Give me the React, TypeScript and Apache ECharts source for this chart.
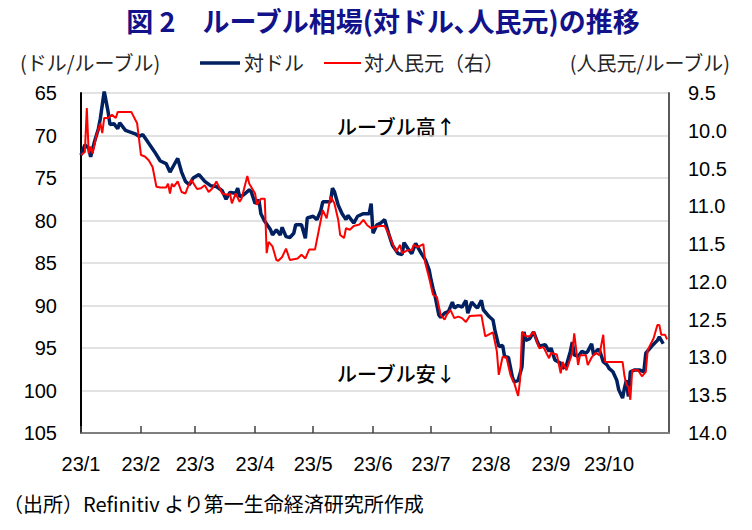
import React, { useEffect, useRef } from 'react';
import * as echarts from 'echarts';

// 対ドル (left axis, RUB per USD)
const usdDates = [
  '01-01','01-03','01-05','01-06','01-08','01-10','01-11','01-13','01-15','01-16','01-18','01-20','01-21','01-24','01-29','01-31',
  '02-02','02-05','02-08','02-11','02-14','02-16','02-18','02-20','02-22','02-24','02-26','02-28',
  '03-03','03-06','03-09','03-12','03-15','03-17','03-19','03-22','03-23','03-24','03-26','03-29','03-30',
  '04-01','04-03','04-04','04-06','04-09','04-10','04-12','04-14','04-15','04-17','04-19','04-21','04-22','04-25','04-27','04-28',
  '05-01','05-03','05-05','05-06','05-10','05-11','05-12','05-14','05-16','05-18','05-19','05-22','05-24','05-27','05-30','05-31',
  '06-01','06-03','06-05','06-07','06-09','06-11','06-14','06-16','06-17','06-19','06-21','06-23','06-24','06-26','06-28','06-30',
  '07-01','07-02','07-03','07-05','07-06','07-08','07-10','07-12','07-13','07-15','07-17','07-19','07-20','07-22','07-24','07-25','07-27','07-28','07-31',
  '08-02','08-03','08-05','08-07','08-08','08-10','08-12','08-13','08-15','08-17','08-18','08-19','08-21','08-23','08-25','08-26','08-29','08-31',
  '09-01','09-03','09-06','09-07','09-09','09-11','09-12','09-13','09-15','09-17','09-19','09-20','09-22','09-23','09-25','09-26','09-28','09-30',
  '10-01','10-03','10-05','10-06','10-08','10-09','10-10','10-11','10-12','10-14','10-17','10-19','10-20','10-23','10-26','10-27','10-29',
];
const usdValues = [
  72.3,71.1,71.5,72.5,70.7,69.2,68.0,64.8,67.2,68.7,68.6,69.2,68.5,69.4,69.8,70.1,
  69.9,70.9,71.9,73.0,73.3,74.3,73.5,72.7,74.3,75.4,75.8,75.0,
  74.6,75.4,75.9,76.0,76.5,77.5,76.7,76.8,76.2,77.2,77.0,76.4,76.6,
  78.0,77.6,79.2,80.1,81.1,81.7,81.1,81.7,80.8,81.9,82.0,81.5,80.5,80.5,82.1,79.7,
  79.5,79.9,78.8,77.8,77.8,76.2,76.6,78.2,79.2,79.9,79.4,80.3,79.5,79.2,79.2,78.0,
  81.5,80.5,80.3,79.9,81.5,82.9,83.9,84.0,82.6,83.3,83.9,82.7,83.1,83.9,84.6,85.8,
  87.0,88.0,88.8,91.1,91.4,90.9,90.7,89.6,90.3,90.0,90.2,89.4,90.9,89.6,90.1,90.3,89.4,90.5,91.3,
  91.7,92.9,94.8,94.7,96.0,96.1,98.4,99.0,98.8,97.2,93.1,94.1,93.9,93.1,94.3,94.8,94.6,95.4,
  95.0,96.4,96.8,97.4,97.0,95.4,94.3,95.8,96.0,95.4,95.6,95.4,94.5,95.8,95.2,95.2,96.6,97.0,
  97.4,97.8,98.8,99.9,100.9,99.7,98.8,100.7,97.8,97.6,97.6,97.8,95.6,94.8,94.1,93.7,94.5,
];

// 対人民元 (right axis, RUB per CNY)
const cnyDates = [
  '01-01','01-03','01-04','01-05','01-06','01-07','01-09','01-11','01-12','01-13','01-15','01-17','01-19','01-20','01-27','01-30',
  '02-01','02-03','02-05','02-07','02-09','02-11','02-14','02-15','02-16','02-17','02-18','02-20','02-22','02-24','02-25','02-27',
  '03-02','03-04','03-06','03-08','03-10','03-12','03-15','03-18','03-19','03-20','03-22','03-24','03-25','03-28','03-29',
  '04-01','04-02','04-04','04-06','04-07','04-08','04-10','04-12','04-13','04-15','04-17','04-19','04-23','04-25','04-27','04-29',
  '05-02','05-04','05-06','05-08','05-10','05-12','05-14','05-15','05-17','05-18','05-20','05-22','05-25','05-27','05-29','05-31',
  '06-02','06-05','06-07','06-09','06-11','06-13','06-15','06-16','06-19','06-21','06-22','06-24','06-27','06-28','06-30',
  '07-02','07-04','07-06','07-08','07-09','07-11','07-13','07-15','07-17','07-19','07-21','07-27','07-29',
  '08-01','08-02','08-04','08-05','08-07','08-09','08-11','08-13','08-15','08-16','08-17','08-19','08-21','08-23','08-25','08-26','08-28','08-31',
  '09-01','09-04','09-06','09-07','09-09','09-12','09-13','09-15','09-16','09-19','09-20','09-22','09-24','09-26','09-28','09-29',
  '10-08','10-09','10-10','10-11','10-12','10-13','10-16','10-18','10-20','10-21','10-24','10-26','10-27','10-28','10-30','10-31',
];
const cnyValues = [
  10.32,10.28,9.70,10.30,10.21,10.30,10.06,9.90,10.03,9.83,9.83,9.79,9.83,9.75,9.75,9.90,
  10.32,10.34,10.39,10.48,10.74,10.75,10.75,10.70,10.83,10.70,10.74,10.67,10.81,10.83,10.76,10.65,
  10.77,10.76,10.72,10.81,10.76,10.67,10.83,10.85,10.83,10.96,10.83,10.94,10.90,10.60,10.70,
  10.83,10.98,10.90,10.90,11.62,11.47,11.53,11.71,11.72,11.67,11.56,11.71,11.69,11.64,11.69,11.57,
  11.57,11.31,11.05,11.16,10.87,10.96,11.18,11.38,11.42,11.29,11.31,11.26,11.24,11.18,11.25,11.29,
  11.27,11.26,11.26,11.36,11.49,11.60,11.51,11.62,11.58,11.58,11.51,11.54,11.50,11.75,11.95,
  12.17,12.20,12.44,12.50,12.44,12.37,12.48,12.46,12.48,12.53,12.45,12.44,12.72,
  12.68,12.67,12.92,13.23,12.99,13.00,13.23,13.34,13.51,13.30,12.66,12.72,12.72,12.66,12.81,12.88,12.86,13.01,
  12.94,12.96,13.21,13.06,13.17,12.94,12.68,13.10,12.97,12.97,13.10,13.00,12.94,12.97,12.70,13.06,
  13.06,13.25,13.36,13.39,13.56,13.17,13.17,13.25,13.19,12.90,12.75,12.57,12.57,12.70,12.70,12.76,
];

const YEAR = '2023';
const xMin = '2023-01-01';
const xMax = '2023-11-01';
const leftMin = 65, leftMax = 105, leftStep = 5;
const rightMin = 9.5, rightMax = 14.0, rightStep = 0.5;

const titleText = '図 2　ルーブル相場(対ドル､人民元)の推移';
const leftUnit = '(ドル/ルーブル)';
const rightUnit = '(人民元/ルーブル)';
const usdName = '対ドル';
const cnyName = '対人民元（右）';
const upNote = 'ルーブル高↑';
const downNote = 'ルーブル安↓';
const sourceText = '（出所）Refinitiv より第一生命経済研究所作成';

const USD_COLOR = '#002060';
const CNY_COLOR = '#ff0000';

const JP = '"Noto Sans CJK JP", "Noto Sans", sans-serif';
const NUM = '"Liberation Sans", Arial, sans-serif';

export default function App() {
  const ref = useRef<HTMLDivElement>(null);
  useEffect(() => {
    if (!ref.current) return;
    const chart = echarts.init(ref.current, undefined, { renderer: 'svg' });
    const usdData = usdDates.map((d, i) => [`${YEAR}-${d}`, usdValues[i]]);
    const cnyData = cnyDates.map((d, i) => [`${YEAR}-${d}`, cnyValues[i]]);
    chart.setOption({
      animation: false,
      backgroundColor: '#ffffff',
      grid: { left: 81, right: 83, top: 93, bottom: 97, containLabel: false },
      xAxis: {
        type: 'time',
        min: xMin,
        max: xMax,
        splitNumber: 10,
        maxInterval: 31 * 86400000,
        axisLine: { show: true, lineStyle: { color: '#7f7f7f', width: 2 } },
        axisTick: { show: true, inside: true, length: 7, lineStyle: { color: '#404040', width: 1.5 } },
        axisLabel: {
          fontSize: 20,
          fontFamily: NUM,
          color: '#000',
          margin: 21,
          formatter: (v: number) => {
            const m = new Date(v).getMonth() + 1;
            return m > 10 ? '' : `23/${m}`;
          },
        },
        splitLine: { show: false },
      },
      yAxis: [
        {
          type: 'value',
          inverse: true,
          min: leftMin,
          max: leftMax,
          interval: leftStep,
          position: 'left',
          axisLine: { show: true, lineStyle: { color: '#000', width: 2 } },
          axisTick: { show: false },
          axisLabel: { fontSize: 20, fontFamily: NUM, color: '#000', margin: 24 },
          splitLine: { show: true, lineStyle: { color: '#d9d9d9', width: 1.5 } },
        },
        {
          type: 'value',
          inverse: true,
          min: rightMin,
          max: rightMax,
          interval: rightStep,
          position: 'right',
          axisLine: { show: true, lineStyle: { color: '#595959', width: 2 } },
          axisTick: { show: false },
          axisLabel: {
            fontSize: 20,
            fontFamily: NUM,
            color: '#000',
            margin: 19,
            formatter: (v: number) => v.toFixed(1),
          },
          splitLine: { show: false },
        },
      ],
      series: [
        {
          name: usdName,
          type: 'line',
          yAxisIndex: 0,
          data: usdData,
          symbol: 'none',
          lineStyle: { color: USD_COLOR, width: 3.5 },
          itemStyle: { color: USD_COLOR },
          z: 3,
        },
        {
          name: cnyName,
          type: 'line',
          yAxisIndex: 1,
          data: cnyData,
          symbol: 'none',
          lineStyle: { color: CNY_COLOR, width: 2 },
          itemStyle: { color: CNY_COLOR },
          z: 4,
        },
      ],
      graphic: [
        {
          type: 'text', x: 383, y: 20,
          style: { text: titleText, fill: '#12128a', font: `bold 27px ${JP}`, textAlign: 'center', textVerticalAlign: 'middle' },
        },
        {
          type: 'text', x: 20, y: 62,
          style: { text: leftUnit, fill: '#262626', font: `20px ${JP}`, textAlign: 'left', textVerticalAlign: 'middle' },
        },
        {
          type: 'text', x: 730, y: 62,
          style: { text: rightUnit, fill: '#262626', font: `20px ${JP}`, textAlign: 'right', textVerticalAlign: 'middle' },
        },
        // legend drawn as graphics (line samples + labels)
        {
          type: 'line', shape: { x1: 200, y1: 63, x2: 240, y2: 63 },
          style: { stroke: USD_COLOR, lineWidth: 3.5 },
        },
        {
          type: 'text', x: 244, y: 62,
          style: { text: usdName, fill: '#262626', font: `20px ${JP}`, textAlign: 'left', textVerticalAlign: 'middle' },
        },
        {
          type: 'line', shape: { x1: 324, y1: 63, x2: 361, y2: 63 },
          style: { stroke: CNY_COLOR, lineWidth: 2 },
        },
        {
          type: 'text', x: 364, y: 62,
          style: { text: cnyName, fill: '#262626', font: `20px ${JP}`, textAlign: 'left', textVerticalAlign: 'middle' },
        },
        {
          type: 'text', x: 337, y: 126,
          style: { text: upNote, fill: '#000', font: `500 20px ${JP}`, textAlign: 'left', textVerticalAlign: 'middle' },
        },
        {
          type: 'text', x: 337, y: 373,
          style: { text: downNote, fill: '#000', font: `500 20px ${JP}`, textAlign: 'left', textVerticalAlign: 'middle' },
        },
        {
          type: 'text', x: 3, y: 503,
          style: { text: sourceText, fill: '#000', font: `20px ${JP}`, textAlign: 'left', textVerticalAlign: 'middle' },
        },
      ],
    });
    return () => chart.dispose();
  }, []);
  return (
    <div
      ref={ref}
      style={{ position: 'fixed', left: 0, top: 0, width: 752, height: 530, background: '#fff' }}
    />
  );
}
